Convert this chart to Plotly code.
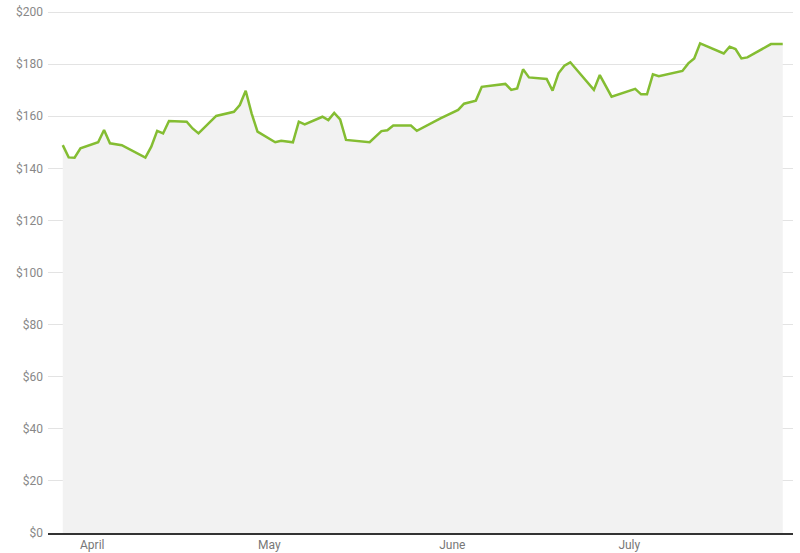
import plotly.graph_objects as go

dates = [
    "2019-03-27", "2019-03-28", "2019-03-29", "2019-03-30", "2019-04-02", "2019-04-03",
    "2019-04-04", "2019-04-06", "2019-04-10", "2019-04-11", "2019-04-12", "2019-04-13",
    "2019-04-14", "2019-04-17", "2019-04-18", "2019-04-19", "2019-04-22", "2019-04-25",
    "2019-04-26", "2019-04-27", "2019-04-28", "2019-04-29", "2019-05-02", "2019-05-03",
    "2019-05-05", "2019-05-06", "2019-05-07", "2019-05-10", "2019-05-11", "2019-05-12",
    "2019-05-13", "2019-05-14", "2019-05-18", "2019-05-20", "2019-05-21", "2019-05-22",
    "2019-05-25", "2019-05-26", "2019-05-30", "2019-06-02", "2019-06-03", "2019-06-05",
    "2019-06-06", "2019-06-10", "2019-06-11", "2019-06-12", "2019-06-13", "2019-06-14",
    "2019-06-17", "2019-06-18", "2019-06-19", "2019-06-20", "2019-06-21", "2019-06-25",
    "2019-06-26", "2019-06-28", "2019-07-02", "2019-07-03", "2019-07-04", "2019-07-05",
    "2019-07-06", "2019-07-10", "2019-07-11", "2019-07-12", "2019-07-13", "2019-07-17",
    "2019-07-18", "2019-07-19", "2019-07-20", "2019-07-21", "2019-07-25", "2019-07-27",
]
prices = [
    148.9, 144.2, 144.1, 147.7, 150.0, 154.7,
    149.6, 148.9, 144.1, 148.3, 154.4, 153.4,
    158.2, 157.9, 155.3, 153.4, 160.1, 161.7,
    164.3, 169.8, 161.1, 154.1, 150.0, 150.6,
    150.0, 157.9, 156.9, 159.8, 158.5, 161.3,
    158.8, 150.9, 150.0, 154.3, 154.6, 156.4,
    156.4, 154.4, 159.2, 162.4, 164.8, 166.0,
    171.3, 172.4, 170.1, 170.7, 178.0, 174.9,
    174.3, 169.8, 176.5, 179.4, 180.7, 170.1,
    175.8, 167.5, 170.5, 168.4, 168.4, 176.1,
    175.4, 177.4, 180.3, 182.2, 188.0, 184.1,
    186.7, 185.8, 182.2, 182.6, 187.7, 187.7,
]

month_ticks = ["2019-04-01", "2019-05-01", "2019-06-01", "2019-07-01"]
month_labels = ["April", "May", "June", "July"]
y_ticks = [0, 20, 40, 60, 80, 100, 120, 140, 160, 180, 200]
y_labels = ["$0", "$20", "$40", "$60", "$80", "$100", "$120", "$140", "$160", "$180", "$200"]

fig = go.Figure()
fig.add_trace(go.Scatter(
    x=dates, y=prices, mode="lines", fill="tozeroy",
    fillcolor="#f2f2f2",
    line=dict(color="#84bd32", width=2.5),
    hoverinfo="skip",
))

fig.update_layout(
    width=800, height=553,
    margin=dict(l=48, r=7, t=11, b=20),
    paper_bgcolor="white", plot_bgcolor="white",
    showlegend=False,
    font=dict(family="Roboto, Arial, sans-serif", size=12, color="#777777"),
    xaxis=dict(
        type="date", automargin=False,
        range=["2019-03-24 12:00", "2019-07-28 17:45"],
        tickvals=month_ticks, ticktext=month_labels,
        showgrid=False, zeroline=False,
        showline=True, linecolor="#333333", linewidth=1.5,
        ticks="", tickfont=dict(size=12, color="#777777"),
    ),
    yaxis=dict(
        automargin=False,
        range=[0, 200.4], tickvals=y_ticks, ticktext=y_labels,
        showgrid=True, gridcolor="#e3e3e3", gridwidth=1,
        zeroline=False, showline=False, ticks="",
        tickfont=dict(size=12, color="#888888"),
        ticklabelstandoff=4,
    ),
)

fig.write_html(
    "out.html",
    config={"displayModeBar": False, "staticPlot": True},
    post_script="document.body.style.margin='0px';document.body.style.overflow='hidden';",
)
